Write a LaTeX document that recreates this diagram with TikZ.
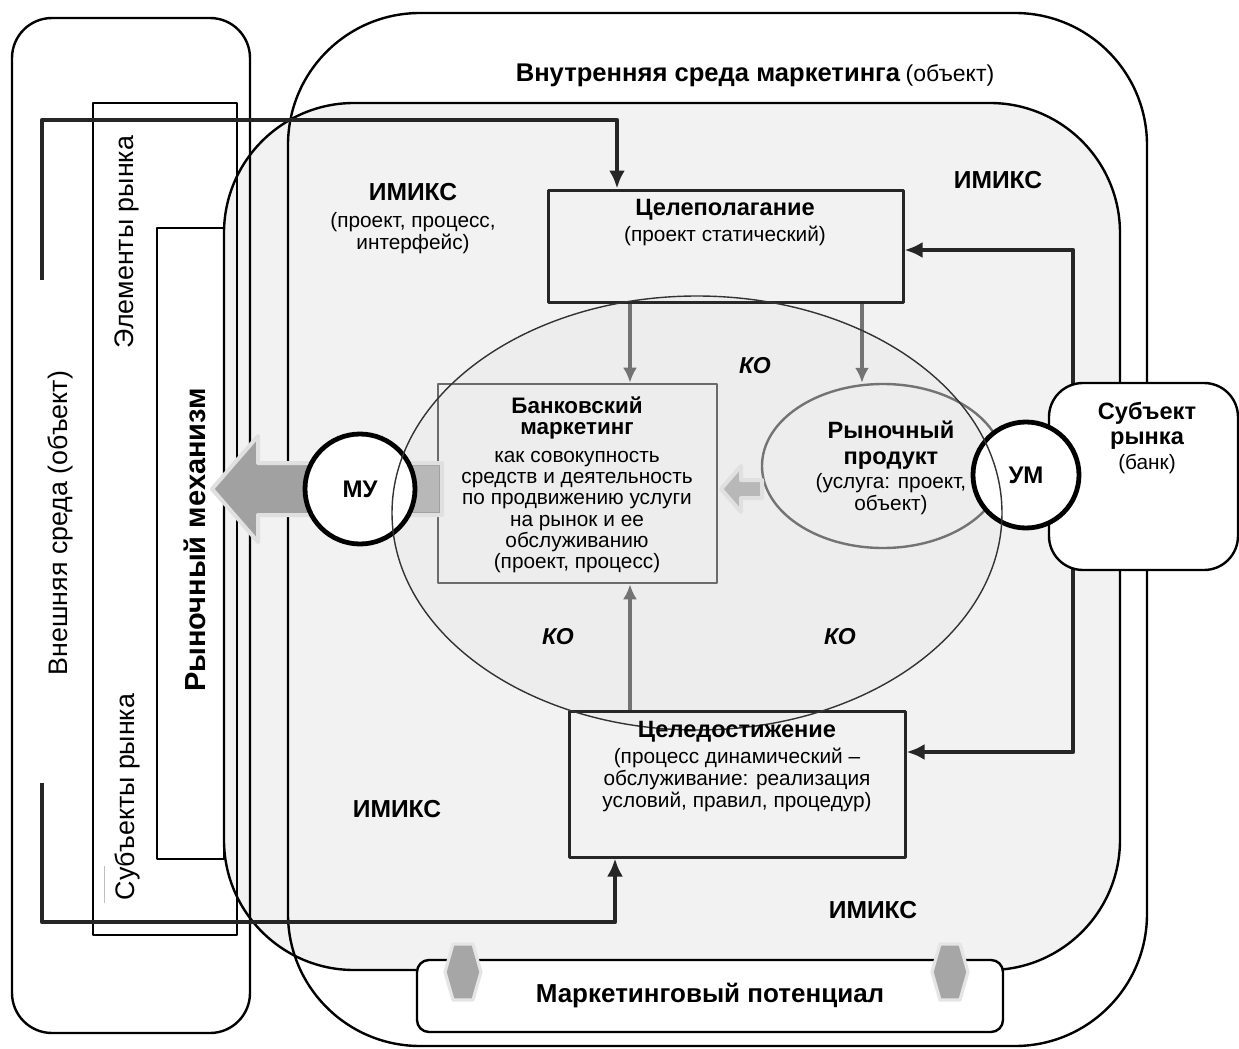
\documentclass[tikz,border=0pt]{standalone}
\usepackage{fontspec}
\setmainfont{Liberation Sans}
\usetikzlibrary{arrows.meta,positioning,shapes.geometric}

\begin{document}
\begin{tikzpicture}[x=0.5pt, y=-0.5pt, line join=round]
    \tikzstyle{frame_black} = [draw=black, line width=1.2pt]
    \tikzstyle{box_dark} = [draw=black!85, line width=1.5pt, rectangle, inner sep=0pt]
    \tikzstyle{box_gray} = [draw=black!58, line width=1.3pt, rectangle, inner sep=0pt]
    \tikzstyle{ring_black} = [draw=black, line width=2.4pt, circle, fill=white, inner sep=0pt, font=\fontsize{12}{13}\selectfont\bfseries]
    \tikzstyle{arrow_dark} = [->, black!85, line width=2.4pt, >={Latex[length=9pt,width=8pt]}]
    \tikzstyle{arrow_dark_both} = [<->, black!85, line width=2.4pt, >={Latex[length=9pt,width=8pt]}]
    \tikzstyle{arrow_gray} = [->, black!55, line width=1.7pt, >={Latex[length=7.5pt,width=7pt]}]
    \tikzstyle{block_arrow} = [fill=black!37, draw=black!12, line width=2pt]
    \tikzstyle{hex_gray} = [fill=black!35, draw=black!10, line width=1.6pt]
    \tikzstyle{txt_bold} = [font=\fontsize{11.8}{13}\selectfont\bfseries, align=center, inner sep=0pt]
    \tikzstyle{txt_small} = [font=\fontsize{10.4}{11}\selectfont, align=center, inner sep=0pt]
    \tikzstyle{txt_side} = [font=\fontsize{13.4}{15}\selectfont, rotate=90, inner sep=0pt]
    \tikzstyle{txt_ko} = [font=\fontsize{11.5}{12}\selectfont\bfseries\itshape, inner sep=0pt]

    \path[use as bounding box, fill=white] (0,0) rectangle (1239,1049);

    % ---------------------------------------
    % inner space and core
    \fill[black!5, rounded corners=65pt] (224,103) rectangle (1120,970);
    \node[ellipse, fill=black!7, minimum width=305pt, minimum height=217pt, inner sep=0pt] (core) at (697,513) {};

    % frames
    \draw[frame_black, rounded corners=20pt] (12,18) rectangle (250,1033);
    \draw[frame_black, rounded corners=66pt] (288,13) rectangle (1147,1046);
    \draw[frame_black, rounded corners=65pt] (224,103) rectangle (1120,970);
    \draw[frame_black] (93,103) rectangle (237,935);
    \draw[frame_black] (157,228) rectangle (224,859);
    \draw[black!25, line width=0.4pt] (104,866) -- (104,903);

    % ---------------------------------------
    \node[box_dark, minimum width=177.5pt, minimum height=56pt] (goalset) at (725.5,246) {};
    \node[box_dark, minimum width=168pt, minimum height=73pt] (goalach) at (737,784) {};
    \node[box_gray, minimum width=139.5pt, minimum height=99.5pt] (bankm) at (577.5,483.5) {};
    \node[ellipse, draw=black!55, line width=1.2pt, minimum width=121pt, minimum height=82pt, inner sep=0pt] (prod) at (883,466) {};

    \coordinate (brtop) at (42,280);
    \coordinate (brbot) at (42,783);
    \coordinate (topx) at (617,0);
    \coordinate (botx) at (615,0);
    \coordinate (fbtop) at (1073,250);
    \coordinate (fbbot) at (1073,752);
    \coordinate (ax1) at (630,0);
    \coordinate (ax2) at (862,0);

    \draw[arrow_dark] (brtop) -- (42,120) -| (goalset.north -| topx);
    \draw[arrow_dark] (brbot) -- (42,922) -| (goalach.south -| botx);
    \draw[arrow_dark_both] (goalset.east |- fbtop) -- (fbtop) -- (fbbot) -- (goalach.east |- fbbot);

    \draw[arrow_gray] (goalset.south -| ax1) -- (bankm.north -| ax1);
    \draw[arrow_gray] (goalset.south -| ax2) -- (prod.north -| ax2);
    \draw[arrow_gray] (goalach.north -| ax1) -- (bankm.south -| ax1);

    \node[draw=black, line width=1.2pt, fill=white, rounded corners=17pt, minimum width=94.5pt, minimum height=93.5pt, inner sep=0pt] (subj) at (1143.5,476.5) {};

    % ---------------------------------------
    \draw[block_arrow] (442,463) -- (258,463) -- (258,436) -- (212,489) -- (258,542) -- (258,515) -- (442,515) -- cycle;
    \fill[black!28] (405,466) rectangle (439,512);
    \draw[block_arrow, fill=black!28] (762,480) -- (741,480) -- (741,466) -- (721,489) -- (741,512) -- (741,498) -- (762,498) -- cycle;

    \node[ring_black, minimum size=55pt] (mu) at (360,489) {МУ};
    \node[ring_black, minimum size=53pt] (um) at (1026,475) {УМ};

    \draw[black!80, line width=0.7pt] (core.center) ellipse [x radius=305, y radius=217];

    % ---------------------------------------
    \node[draw=black, line width=1.2pt, fill=white, rounded corners=6pt, minimum width=293pt, minimum height=36pt, txt_bold, font=\fontsize{13}{14}\selectfont\bfseries] (potential) at (710,996) {Маркетинговый потенциал};
    \draw[hex_gray] (453,944) -- (473,944) -- (481,972) -- (473,1000) -- (453,1000) -- (445,972) -- cycle;
    \draw[hex_gray] (940,944) -- (960,944) -- (968,972) -- (960,1000) -- (940,1000) -- (932,972) -- cycle;

    % ---------------------------------------
    \node[txt_side] (outer_env) at (60,523) {Внешняя среда (объект)};
    \node[txt_side] (elem_txt) at (127,242) {Элементы рынка};
    \node[txt_side] (subj_txt) at (127,797) {Субъекты рынка};
    \node[txt_side, font=\fontsize{14.5}{15}\selectfont\bfseries] (mech_txt) at (195,540) {Рыночный механизм};

    \node[inner sep=0pt] (inner_title) at (755,75) {{\fontsize{12.8}{13}\selectfont\bfseries Внутренняя среда маркетинга} {\fontsize{11.5}{12}\selectfont (объект)}};

    \node[txt_bold, font=\fontsize{12.3}{13}\selectfont\bfseries] (imix_a) at (413,192) {ИМИКС};
    \node[txt_small] (imix_a_sub) at (413,233) {(проект, процесс,\\интерфейс)};
    \node[txt_bold, font=\fontsize{12.3}{13}\selectfont\bfseries] (imix_b) at (998,180) {ИМИКС};
    \node[txt_bold, font=\fontsize{12.3}{13}\selectfont\bfseries] (imix_c) at (397,809) {ИМИКС};
    \node[txt_bold, font=\fontsize{12.3}{13}\selectfont\bfseries] (imix_d) at (873,910) {ИМИКС};

    \node[txt_bold] (goalset_t) at (725,210) {Целеполагание};
    \node[txt_small] (goalset_s) at (725,236) {(проект статический)};
    \node[txt_bold] (goalach_t) at (737,732) {Целедостижение};
    \node[txt_small, font=\fontsize{10.4}{11.2}\selectfont] (goalach_s) at (737,780) {(процесс динамический –\\обслуживание: реализация\\условий, правил, процедур)};

    \node[txt_bold, font=\fontsize{11.2}{10.5}\selectfont\bfseries] (bankm_t) at (577,418) {Банковский\\маркетинг};
    \node[txt_small, font=\fontsize{10.4}{10.6}\selectfont] (bankm_s) at (577,512) {как совокупность\\средств и деятельность\\по продвижению услуги\\на рынок и ее\\обслуживанию\\(проект, процесс)};

    \node[txt_bold, font=\fontsize{11.8}{13}\selectfont\bfseries] (prod_t) at (891,445) {Рыночный\\продукт};
    \node[txt_small] (prod_s) at (891,494) {(услуга: проект,\\объект)};

    \node[txt_bold, font=\fontsize{11.8}{12.5}\selectfont\bfseries] (subj_t) at (1147,426) {Субъект\\рынка};
    \node[txt_small] (subj_s) at (1147,464) {(банк)};

    \node[txt_ko] (ko_a) at (755,366) {КО};
    \node[txt_ko] (ko_b) at (558,637) {КО};
    \node[txt_ko] (ko_c) at (840,637) {КО};

\end{tikzpicture}
\end{document}
